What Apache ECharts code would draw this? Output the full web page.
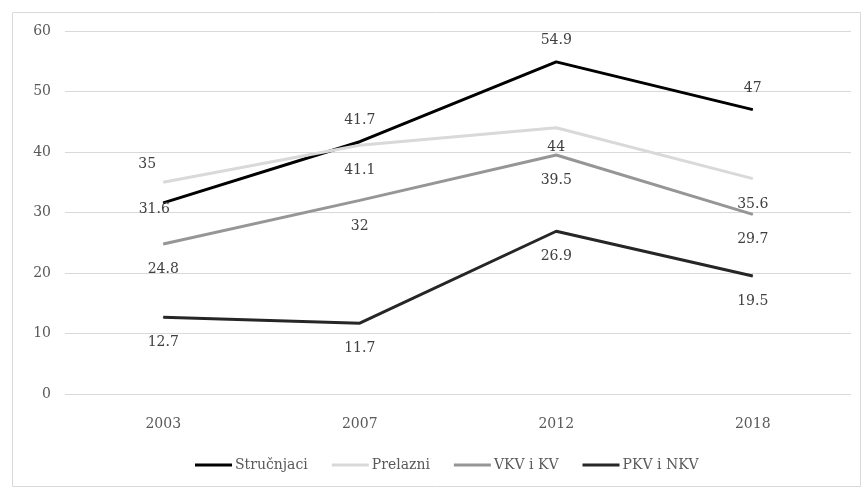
<!DOCTYPE html>
<html><head><meta charset="utf-8">
<script src="https://cdn.jsdelivr.net/npm/echarts@6/dist/echarts.min.js"></script>
<style>html,body{margin:0;padding:0;background:#fff}#c{width:862px;height:488px}</style>
</head><body><div id="c"></div>
<script>
const categories = ['2003', '2007', '2012', '2018'];
const seriesNames = ['Stručnjaci', 'Prelazni', 'VKV i KV', 'PKV i NKV'];
const strucnjaci = [31.6, 41.7, 54.9, 47];
const prelazni = [35, 41.1, 44, 35.6];
const vkvKv = [24.8, 32, 39.5, 29.7];
const pkvNkv = [12.7, 11.7, 26.9, 19.5];
const yTicks = [0, 10, 20, 30, 40, 50, 60];

const values = [strucnjaci, prelazni, vkvKv, pkvNkv];
const colors = ['#000000', '#d9d9d9', '#969696', '#262626'];
// label placement per point: [position, distance, padding]
const T = ['top', 14, 0], B = ['bottom', 18, 0];
const labelPlace = [
  [['bottom', -1, [0, 18, 0, 0]], T, T, T],
  [['top', 10, [0, 32, 0, 0]], B, ['bottom', 12, 0], B],
  [B, B, B, B],
  [B, B, B, B]
];
const font = 'DejaVu Serif';

const chart = echarts.init(document.getElementById('c'), null, {renderer: 'canvas'});
chart.setOption({
  animation: false,
  backgroundColor: '#fff',
  graphic: [{
    type: 'rect', left: 10, top: 10, shape: {width: 848, height: 474},
    style: {fill: 'none', stroke: '#d9d9d9', lineWidth: 1}, silent: true, z: -1
  }],
  grid: {left: 65, right: 11, top: 31, bottom: 94},
  xAxis: {
    type: 'category', data: categories, boundaryGap: true,
    axisLine: {show: false}, axisTick: {show: false},
    axisLabel: {color: '#595959', fontFamily: font, fontSize: 14, margin: 23}
  },
  yAxis: {
    type: 'value', min: yTicks[0], max: yTicks[yTicks.length - 1], interval: 10,
    axisLine: {show: false}, axisTick: {show: false},
    splitLine: {lineStyle: {color: '#d9d9d9', width: 1}},
    axisLabel: {color: '#595959', fontFamily: font, fontSize: 14, margin: 14}
  },
  legend: {
    bottom: 11, left: 190, itemWidth: 37, itemHeight: 3, itemGap: 24, icon: 'rect',
    textStyle: {color: '#595959', fontFamily: font, fontSize: 14, padding: [0, 0, 0, -2]},
    data: seriesNames
  },
  series: seriesNames.map((name, i) => ({
    name: name, type: 'line', symbol: 'circle', symbolSize: 1, showSymbol: true, smooth: false,
    color: colors[i],
    itemStyle: {color: colors[i]},
    lineStyle: {color: colors[i], width: 3},
    labelLayout: {hideOverlap: false},
    data: values[i].map((v, j) => ({
      value: v,
      label: {
        show: true, position: labelPlace[i][j][0], distance: labelPlace[i][j][1],
        padding: labelPlace[i][j][2],
        color: '#404040', fontFamily: font, fontSize: 14
      }
    }))
  }))
});
</script></body></html>
